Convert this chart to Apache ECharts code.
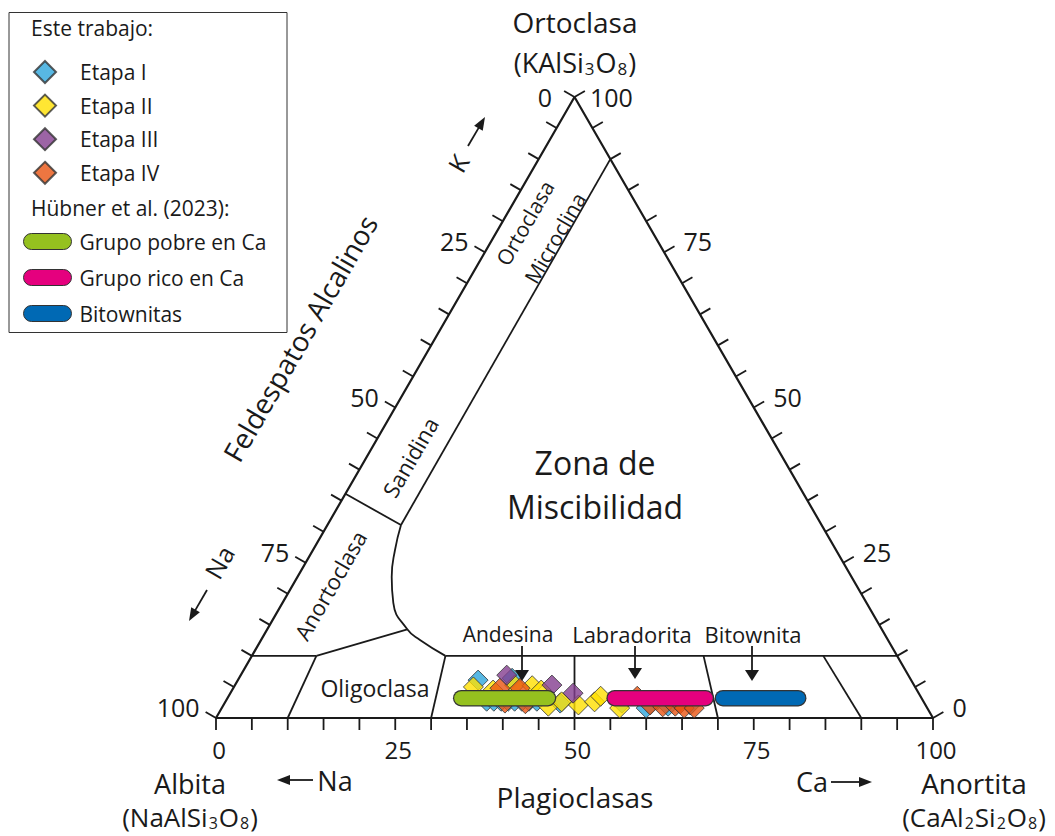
<!DOCTYPE html>
<html>
<head>
<meta charset="utf-8">
<script src="https://cdn.jsdelivr.net/npm/echarts@6/dist/echarts.min.js"></script>
<style>
html,body{margin:0;padding:0;background:#ffffff;}
#chart{width:1055px;height:836px;}
</style>
</head>
<body>
<div id="chart"></div>
<script>
// ================= DATA (ternary: [An %, Or %], Ab = 100 - An - Or) =================
const etapaNames = ['Etapa I', 'Etapa II', 'Etapa III', 'Etapa IV'];
const etapaColors = ['#2ea6dc', '#ffe000', '#833d8f', '#e85412'];

const etapaI = [
  [33.5, 6.1], [38.1, 6.4], [36.4, 2.7], [37.4, 2.7], [38.4, 2.7], [39.4, 2.7],
  [40.3, 2.7], [41.3, 2.7], [42.3, 2.7], [43.4, 2.7], [46.8, 2.4],
  [55.4, 2.4], [59.2, 1.6], [60.1, 2.9], [62.1, 1.9], [65.1, 2.1]
];
const etapaII = [
  [33.4, 5.0], [36.4, 4.5], [39.0, 5.3], [41.5, 5.2], [43.1, 4.5], [45.4, 1.9],
  [46.9, 2.6], [49.5, 2.1], [51.5, 2.6], [51.9, 3.5], [55.5, 1.6]
];
const etapaIII = [[37.1, 6.9], [44.2, 5.3], [47.8, 4.0]];
const etapaIV = [
  [37.2, 4.8], [40.0, 4.8], [39.1, 2.4], [42.0, 2.3], [57.0, 3.5], [59.5, 2.1],
  [61.4, 1.8], [63.1, 1.9], [63.6, 2.3], [64.5, 1.6], [65.9, 1.6]
];

const groupNames = ['Grupo pobre en Ca', 'Grupo rico en Ca', 'Bitownitas'];
const groupColors = ['#95c11f', '#e5007e', '#0069b4'];
const grupoPobreCa = [[32.6, 3.2], [44.7, 3.2]];
const grupoRicoCa = [[54.0, 3.2], [66.7, 3.2]];
const bitownitas = [[69.1, 3.2], [79.6, 3.2]];

const tickValues = [0, 5, 10, 15, 20, 25, 30, 35, 40, 45, 50, 55, 60, 65, 70, 75, 80, 85, 90, 95, 100];
const tickLabelValues = [0, 25, 50, 75, 100];

// field boundaries
const triangleEdge = [[0, 0], [100, 0], [0, 100], [0, 0]];
const an10Line = [[10, 90], [10.26, 31.08]];
const solvusCurve = [[10.26, 31.08], [11.44, 27.05], [13.15, 22.71], [15.47, 18.52], [19.54, 14.28], [22.17, 12.56], [27, 10]];
const sanidinaAnortoclasa = [[0, 36.1], [10.26, 31.08]];
const anortoclasaOligoclasa = [[9, 10], [19.54, 14.28]];
const or10Left = [[0, 10], [9, 10]];
const or10Right = [[27, 10], [90, 10]];
const albitaOligoclasa = [[9, 10], [10, 0]];
const oligoclasaAndesina = [[27, 10], [30, 0]];
const andesinaLabradorita = [[45, 10], [50, 0]];
const labradoritaBitownita = [[63, 10], [70, 0]];
const bitownitaAnortita = [[79.7, 10], [90, 0]];

// ================= HELPERS =================
const C = Math.sqrt(3) / 2;
const FONT = '"Open Sans", "Noto Sans", sans-serif';
const INK = '#1a1a1a';
function toXY(p) { return [p[0] + p[1] / 2, p[1] * C]; }
function conv(arr) { return arr.map(toXY); }

const boundaryLines = [triangleEdge, an10Line, sanidinaAnortoclasa, anortoclasaOligoclasa,
  or10Left, or10Right, albitaOligoclasa, oligoclasaAndesina, andesinaLabradorita,
  labradoritaBitownita, bitownitaAnortita];

const series = [];
boundaryLines.forEach((ln, i) => {
  series.push({
    type: 'line', data: conv(ln), symbol: 'none', silent: true, clip: false,
    lineStyle: { color: INK, width: i === 0 ? 2.2 : 1.8 }, z: 1
  });
});
series.push({
  type: 'line', data: conv(solvusCurve), symbol: 'none', silent: true, clip: false, smooth: 0.5,
  lineStyle: { color: INK, width: 1.8 }, z: 1
});

// ticks + tick labels
series.push({
  type: 'custom', coordinateSystem: 'cartesian2d', clip: false, silent: true, z: 1,
  data: tickValues.map(v => [v, 0]),
  renderItem: function (params, api) {
    const v = api.value(0);
    const L = 12;
    const kids = [];
    const edges = [
      { p: api.coord(toXY([v, 0])), n: [0, 1], side: 'bottom', apex: false },
      { p: api.coord(toXY([0, 100 - v])), n: [-C, -0.5], side: 'left', apex: v === 0 },
      { p: api.coord(toXY([100 - v, v])), n: [C, -0.5], side: 'right', apex: v === 100 }
    ];
    const labeled = tickLabelValues.indexOf(v) >= 0;
    edges.forEach(e => {
      const ex = e.p[0] + e.n[0] * L, ey = e.p[1] + e.n[1] * L;
      kids.push({ type: 'line', shape: { x1: e.p[0], y1: e.p[1], x2: ex, y2: ey }, style: { stroke: INK, lineWidth: 1.8 } });
      if (labeled) {
        let x, y, align;
        if (e.side === 'bottom') { x = e.p[0] + 3; y = e.p[1] + 31; align = 'center'; }
        else if (e.side === 'left') { x = e.apex ? ex - 12 : ex - 6; y = e.apex ? e.p[1] : ey - 5; align = 'right'; }
        else { x = e.apex ? ex + 5 : ex + 9; y = e.apex ? e.p[1] : ey - 5; align = 'left'; }
        kids.push({ type: 'text', x: x, y: y, style: { text: String(v), fill: INK, fontSize: e.side === 'bottom' ? 24 : 25, fontFamily: FONT, align: align, verticalAlign: 'middle' } });
      }
    });
    return { type: 'group', children: kids };
  }
});

// scatter (order: I, II, IV, III so purple on top)
const etapaData = [etapaI, etapaII, etapaIII, etapaIV];
[0, 1, 3, 2].forEach(i => {
  series.push({
    name: etapaNames[i], type: 'scatter', data: conv(etapaData[i]), symbol: 'diamond', symbolSize: 20,
    itemStyle: { color: etapaColors[i], borderColor: '#333333', borderWidth: 1 }, z: 3
  });
});

// Hübner groups: pill bars
const groupData = [grupoPobreCa, grupoRicoCa, bitownitas];
groupData.forEach((g, i) => {
  series.push({
    type: 'line', data: conv(g), symbol: 'none', silent: true, clip: false,
    lineStyle: { color: '#333333', width: 16.5, cap: 'round' }, z: 4
  });
  series.push({
    name: groupNames[i], type: 'line', data: conv(g), symbol: 'none', silent: true, clip: false,
    itemStyle: { color: groupColors[i] },
    lineStyle: { color: groupColors[i], width: 14, cap: 'round' }, z: 5
  });
});

// ================= ANNOTATIONS =================
function txt(text, x, y, size, opts) {
  opts = opts || {};
  const st = {
    text: text, fill: INK, fontSize: size, fontFamily: FONT,
    align: opts.align || 'center', verticalAlign: 'middle',
    textAlign: opts.align || 'center', textVerticalAlign: 'middle'
  };
  if (opts.rich) st.rich = opts.rich;
  if (opts.lineHeight) st.lineHeight = opts.lineHeight;
  return { type: 'text', x: x, y: y, rotation: opts.rot || 0, z: 10, style: st };
}
function arrow(x1, y1, x2, y2, head, hw) {
  head = head || 12; hw = hw || 5;
  const dx = x2 - x1, dy = y2 - y1, Ln = Math.hypot(dx, dy), ux = dx / Ln, uy = dy / Ln;
  const bx = x2 - ux * head, by = y2 - uy * head;
  return [
    { type: 'line', z: 10, shape: { x1: x1, y1: y1, x2: bx + ux, y2: by + uy }, style: { stroke: INK, lineWidth: 1.8 } },
    { type: 'polygon', z: 10, shape: { points: [[x2, y2], [bx - uy * hw, by + ux * hw], [bx + uy * hw, by - ux * hw]] }, style: { fill: INK } }
  ];
}
function formulaRich(size) {
  return {
    a: { fontSize: size, fontFamily: FONT, fill: INK, lineHeight: 26 },
    b: { fontSize: Math.round(size * 0.62), fontFamily: FONT, fill: INK, lineHeight: 14, padding: [12, 1, 0, 1] }
  };
}
const R = Math.PI / 3;
const graphics = [
  { type: 'rect', z: 0, shape: { x: 9, y: 12.5, width: 278, height: 320 }, style: { fill: 'none', stroke: '#333333', lineWidth: 1 } },
  txt('Este trabajo:', 31, 28, 21, { align: 'left' }),
  txt('Hübner et al. (2023):', 31, 208, 21, { align: 'left' }),
  txt('Ortoclasa', 575, 22, 28),
  txt('{a|(KAlSi}{b|3}{a|O}{b|8}{a|)}', 575, 62, 0, { rich: formulaRich(27) }),
  txt('Albita', 190, 783, 27),
  txt('{a|(NaAlSi}{b|3}{a|O}{b|8}{a|)}', 190, 817, 0, { rich: formulaRich(26) }),
  txt('Anortita', 974, 783, 28),
  txt('{a|(CaAl}{b|2}{a|Si}{b|2}{a|O}{b|8}{a|)}', 974, 817, 0, { rich: formulaRich(26) }),
  txt('Plagioclasas', 575, 797, 28),
  txt('Feldespatos Alcalinos', 300, 338, 28, { rot: R }),
  txt('Zona de\nMiscibilidad', 595, 484, 32, { lineHeight: 44 }),
  txt('Oligoclasa', 375, 688, 23),
  txt('Andesina', 508, 634, 21),
  txt('Labradorita', 632, 634, 22),
  txt('Bitownita', 753, 634, 22),
  txt('Anortoclasa', 330, 585, 22, { rot: R }),
  txt('Sanidina', 410, 457, 22, { rot: R }),
  txt('Ortoclasa', 525, 223, 21, { rot: R }),
  txt('Microclina', 555, 238, 21, { rot: R }),
  txt('K', 458, 163, 25, { rot: R }),
  txt('Na', 219, 562, 25, { rot: R }),
  txt('Na', 335, 780, 27),
  txt('Ca', 812, 781, 27)
].concat(
  arrow(522, 646, 522, 681, 11, 7),
  arrow(635, 646, 635, 679, 11, 7),
  arrow(752, 646, 752, 681, 11, 7),
  arrow(313, 780, 277, 780, 13, 5),
  arrow(831, 782, 872, 782, 13, 5),
  arrow(468, 146, 485, 117, 13, 5),
  arrow(207, 590, 189, 621, 13, 5)
);

const pillIcon = 'path://M9,0 L45,0 A9,9 0 0 1 45,18 L9,18 A9,9 0 0 1 9,0 Z';

const chart = echarts.init(document.getElementById('chart'), null, { renderer: 'svg' });
chart.setOption({
  animation: false,
  backgroundColor: '#ffffff',
  grid: { left: 216, top: 97, width: 717, height: 621, containLabel: false },
  xAxis: { type: 'value', min: 0, max: 100, show: false },
  yAxis: { type: 'value', min: 0, max: 100 * C, show: false },
  legend: [
    {
      data: etapaNames, orient: 'vertical', left: 28, top: 55, itemWidth: 22, itemHeight: 22, itemGap: 9.6,
      selectedMode: false, z: 10,
      textStyle: { fontFamily: FONT, fontSize: 21, color: INK, padding: [0, 0, 0, 19], lineHeight: 22 }
    },
    {
      data: groupNames.map(n => ({ name: n, icon: pillIcon })), orient: 'vertical', left: 18, top: 226,
      itemWidth: 54, itemHeight: 16, itemGap: 15, selectedMode: false, z: 10,
      itemStyle: { borderColor: '#333333', borderWidth: 1 },
      textStyle: { fontFamily: FONT, fontSize: 21, color: INK, padding: [0, 0, 0, 0], lineHeight: 16 }
    }
  ],
  graphic: graphics,
  series: series
});
</script>
</body>
</html>
